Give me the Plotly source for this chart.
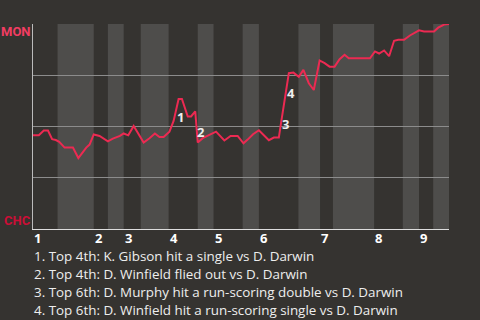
import plotly.graph_objects as go

# Game progress (% of plays) and Montreal win probability
progress = [0, 1.4, 2.6, 3.6, 4.6, 5.5, 6.3, 7.6, 9.6, 10.9, 11.9, 12.8, 13.6, 14.6,
            16.0, 18.0, 19.2, 20.9, 21.8, 22.9, 24.2, 25.3, 26.6, 28.0, 29.3, 30.4,
            31.4, 32.8, 33.8, 35.0, 35.8, 37.2, 38.0, 39.0, 39.6, 40.8, 42.4, 44.0,
            46.0, 47.5, 49.2, 50.6, 51.6, 52.9, 54.3, 56.7, 57.9, 59.1, 59.5, 61.5,
            62.6, 63.9, 65.0, 66.3, 67.5, 68.9, 70.1, 71.3, 72.5, 73.7, 74.9, 75.9,
            81.0, 82.2, 83.2, 84.4, 85.6, 86.8, 87.8, 89.2, 90.6, 92.8, 94.0, 96.4,
            97.4, 98.8, 100]
win_prob = [0.457, 0.457, 0.480, 0.480, 0.438, 0.434, 0.425, 0.397, 0.397, 0.346, 0.373,
            0.397, 0.412, 0.461, 0.454, 0.428, 0.441, 0.454, 0.466, 0.457, 0.503, 0.466,
            0.422, 0.443, 0.466, 0.449, 0.449, 0.475, 0.527, 0.634, 0.634, 0.549, 0.549,
            0.574, 0.422, 0.443, 0.459, 0.475, 0.432, 0.454, 0.454, 0.418, 0.436, 0.462,
            0.482, 0.433, 0.446, 0.446, 0.501, 0.760, 0.763, 0.743, 0.776, 0.711, 0.678,
            0.822, 0.809, 0.792, 0.792, 0.828, 0.850, 0.833, 0.833, 0.866, 0.856, 0.871,
            0.843, 0.918, 0.923, 0.923, 0.944, 0.969, 0.964, 0.964, 0.982, 0.997, 1.0]

# Bottom half-inning spans (progress %)
bottom_halves = [(5.9, 14.6), (18.0, 21.8), (25.9, 32.6), (39.6, 43.4), (50.4, 54.3),
                 (63.8, 69.0), (72.1, 82.0), (88.9, 92.8), (96.2, 100)]
inning_starts = [0, 14.6, 21.8, 32.6, 43.4, 54.3, 69.0, 82.0, 92.8]
inning_labels = ["1", "2", "3", "4", "5", "6", "7", "8", "9"]

event_marks = ["1", "2", "3", "4"]
event_x = [35.5, 40.4, 60.7, 62.1]
event_y = [0.546, 0.471, 0.511, 0.665]
event_notes = [
    "1. Top 4th: K. Gibson hit a single vs D. Darwin",
    "2. Top 4th: D. Winfield flied out vs D. Darwin",
    "3. Top 6th: D. Murphy hit a run-scoring double vs D. Darwin",
    "4. Top 6th: D. Winfield hit a run-scoring single vs D. Darwin",
]

BG = "#353330"
BAND = "#4e4d4b"
LINE = "#ec2a52"
FONT = "Open Sans"

fig = go.Figure()
fig.add_trace(go.Scatter(x=progress, y=win_prob, mode="lines",
                         line=dict(color=LINE, width=2), hoverinfo="skip"))

shapes = []
for a, b in bottom_halves:
    shapes.append(dict(type="rect", xref="x", yref="paper", x0=a, x1=b, y0=0, y1=1,
                       fillcolor=BAND, line=dict(width=0), layer="below"))

annotations = []
for xs, lab in zip(inning_starts, inning_labels):
    annotations.append(dict(x=xs, y=(229 - 237.5) / 205, xref="x", yref="paper",
                            text="<b>%s</b>" % lab, borderpad=0,
                            showarrow=False, xanchor="left", yanchor="middle",
                            font=dict(family=FONT, size=13, color="#ffffff")))
for m, ex, ey in zip(event_marks, event_x, event_y):
    annotations.append(dict(x=ex, y=ey, xref="x", yref="y", text="<b>%s</b>" % m,
                            showarrow=False, xanchor="center", yanchor="middle",
                            font=dict(family=FONT, size=13, color="#eeeeee")))
annotations.append(dict(x=0, y=(229 - 31) / 205, xref="paper", yref="paper", text="<b>MON</b>",
                        showarrow=False, xanchor="right", yanchor="middle", xshift=0,
                        font=dict(family="Roboto", size=13, color="#f23d62")))
annotations.append(dict(x=0, y=(229 - 220) / 205, xref="paper", yref="paper", text="<b>CHC</b>",
                        showarrow=False, xanchor="right", yanchor="middle", xshift=0,
                        font=dict(family="Roboto", size=13, color="#cc0e36")))
for i, note in enumerate(event_notes):
    py = 255.5 + 18 * i
    annotations.append(dict(x=0, y=(229 - py) / 205, xref="paper", yref="paper", text=note,
                            showarrow=False, xanchor="left", yanchor="middle", xshift=0,
                            borderpad=0,
                            font=dict(family=FONT, size=13.4, color="#eeeeee")))

fig.update_layout(
    width=480, height=320,
    margin=dict(l=33, r=31, t=24, b=91),
    paper_bgcolor=BG, plot_bgcolor=BG,
    showlegend=False,
    shapes=shapes,
    annotations=annotations,
    xaxis=dict(range=[0, 100], showgrid=False, zeroline=False, showticklabels=False,
               showline=True, linecolor="#dddddd", linewidth=1, ticks="", fixedrange=True),
    yaxis=dict(range=[0, 1], tickvals=[0, 0.25, 0.5, 0.75, 1], showticklabels=False,
               showgrid=True, gridcolor="#8c8c8c", gridwidth=1, zeroline=False,
               showline=True, linecolor="#bbbbbb", linewidth=1, ticks="", fixedrange=True),
)

fig.write_html("out.html", config={"displayModeBar": False})
